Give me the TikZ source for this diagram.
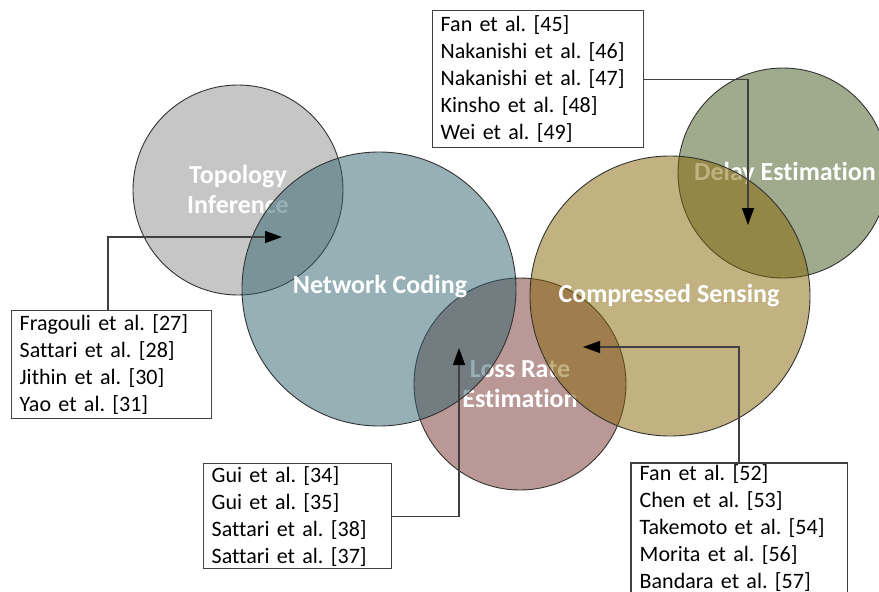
\documentclass[tikz,border=0pt]{standalone}
\usepackage{fontspec}
\setmainfont{Carlito}[Ligatures=NoCommon]
\frenchspacing
\usetikzlibrary{arrows.meta}
\definecolor{cgray}{HTML}{8D8D8D}
\definecolor{cblue}{HTML}{2D616D}
\definecolor{closs}{HTML}{73312D}
\definecolor{ccomp}{HTML}{856505}
\definecolor{cdelay}{HTML}{415519}
\definecolor{lineg}{HTML}{404040}
\tikzset{
  venn/.style={fill opacity=0.5, draw=black!80, draw opacity=1, line width=0.9pt},
  vlabel/.style={text=white, font=\bfseries\fontsize{26}{30}\selectfont, align=center, inner sep=0pt},
  refbox/.style={draw=lineg, line width=1.4pt, fill=white, anchor=north west, inner xsep=8pt, inner ysep=0pt,
    align=left, font=\fontsize{22}{27}\selectfont},
  boxline/.style={draw=lineg, line width=1.4pt},
  conn/.style={draw=lineg, line width=1.3pt, -{Triangle[length=17pt,width=12pt,color=black]}}
}
\begin{document}
\begin{tikzpicture}[x=1pt,y=-1pt]
\useasboundingbox (0,0) rectangle (879,592);
\begin{scope}
\clip (0,0) rectangle (879,592);
% circles (drawn in layering order)
\path[venn, fill=cgray] (238,190) circle (105pt);
\node[vlabel] (lt) at (238,189) {Topology\\Inference};
\path[venn, fill=closs] (520,384) circle (106pt);
\node[vlabel] (ll) at (520,384) {Loss Rate\\Estimation};
\path[venn, fill=cdelay] (783,173) circle (105pt);
\node[vlabel] (ld) at (785,173) {Delay Estimation};
\path[venn, fill=cblue] (379,289) circle (137pt);
\node[vlabel] (ln) at (380,287) {Network Coding};
\path[venn, fill=ccomp] (670,296) circle (140pt);
\node[vlabel] (lc) at (669,296) {Compressed Sensing};
% boxes
\node[refbox, minimum width=200pt, minimum height=108pt, text width=184pt] (b1) at (11,310)
  {Fragouli et al. [27]\\Sattari et al. [28]\\Jithin et al. [30]\\Yao et al. [31]};
\node[refbox, minimum width=211pt, minimum height=137pt, text width=195pt] (b2) at (432,10)
  {Fan et al. [45]\\Nakanishi et al. [46]\\Nakanishi et al. [47]\\Kinsho et al. [48]\\Wei et al. [49]};
\node[refbox, minimum width=188pt, minimum height=105pt, text width=172pt] (b3) at (203,463)
  {Gui et al. [34]\\Gui et al. [35]\\Sattari et al. [38]\\Sattari et al. [37]};
\node[refbox, draw=none, minimum width=215pt, minimum height=128pt, text width=199pt] (b4) at (631,463)
  {Fan et al. [52]\\Chen et al. [53]\\Takemoto et al. [54]\\Morita et al. [56]\\Bandara et al. [57]};
\draw[boxline] (b4.north west) rectangle ([yshift=-12pt]b4.south east);
% arrow targets
\coordinate (t1) at (282,237);
\coordinate (t2) at (748,225);
\coordinate (t3) at (459,348);
\coordinate (t4) at (583,347);
% connectors
\draw[conn] ([xshift=97pt]b1.north west) |- (t1);
\draw[conn] (b2.east) -| (t2);
\draw[conn] (b3.east) -| (t3);
\draw[conn] ([xshift=108pt]b4.north west) |- (t4);
\end{scope}
\end{tikzpicture}
\end{document}
